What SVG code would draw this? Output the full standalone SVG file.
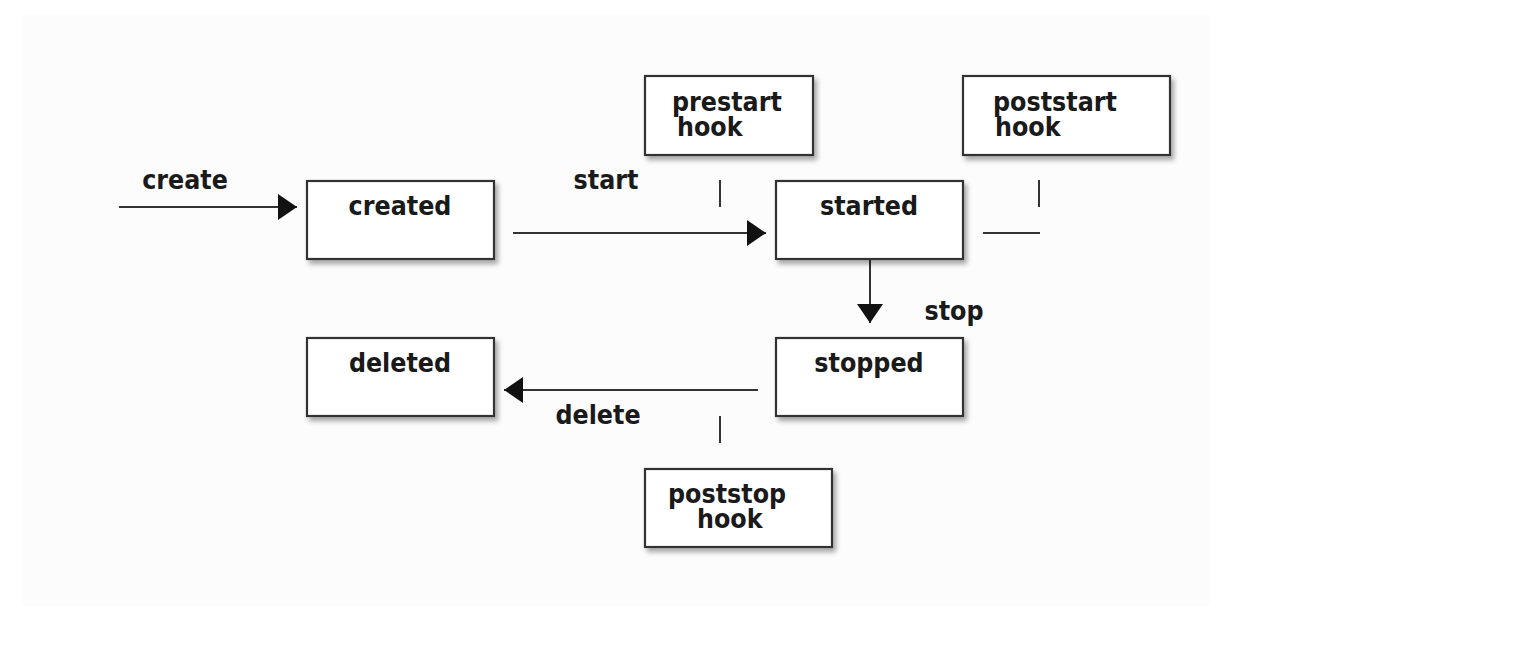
<svg xmlns="http://www.w3.org/2000/svg" width="1524" height="662" viewBox="0 0 1524 662">
<style>
.box{fill:#ffffff;stroke:#333333;stroke-width:2.2;filter:url(#sh)}
.t{font-family:"DejaVu Sans Condensed","DejaVu Sans",sans-serif;font-stretch:condensed;font-weight:bold;font-size:26.5px;fill:#1a1a1a}
.c{text-anchor:middle}
.ln{stroke:#333;stroke-width:2;fill:none}
</style>
<defs>
<filter id="sh" x="-10%" y="-10%" width="130%" height="140%">
<feDropShadow dx="3" dy="4" stdDeviation="2.5" flood-color="#000" flood-opacity="0.35"/>
</filter>
<marker id="ah" markerUnits="userSpaceOnUse" markerWidth="20" markerHeight="26" refX="19" refY="13" orient="auto">
<path d="M0,0 L19,13 L0,26 Z" fill="#111"/>
</marker>
</defs>
<rect x="22" y="15" width="1188" height="591" fill="#fcfcfc"/>
<g id="connectors">
<line class="ln" x1="119" y1="207" x2="297" y2="207" marker-end="url(#ah)"/>
<line class="ln" x1="513" y1="233" x2="766" y2="233" marker-end="url(#ah)"/>
<line class="ln" x1="720" y1="180" x2="720" y2="207"/>
<line class="ln" x1="1039" y1="180" x2="1039" y2="207"/>
<line class="ln" x1="983" y1="233" x2="1040" y2="233"/>
<line class="ln" x1="870" y1="260" x2="870" y2="323" marker-end="url(#ah)"/>
<line class="ln" x1="758" y1="390" x2="504" y2="390" marker-end="url(#ah)"/>
<line class="ln" x1="720" y1="416" x2="720" y2="443"/>
<text class="t c" x="185" y="189">create</text>
<text class="t c" x="606" y="189">start</text>
<text class="t c" x="954" y="320">stop</text>
<text class="t c" x="598" y="424">delete</text>
</g>
<g id="created"><rect class="box" x="307" y="181" width="187" height="78"/><text class="t c" x="400" y="215">created</text></g>
<g id="started"><rect class="box" x="776" y="181" width="187" height="78"/><text class="t c" x="869" y="215">started</text></g>
<g id="deleted"><rect class="box" x="307" y="338" width="187" height="78"/><text class="t c" x="400" y="372">deleted</text></g>
<g id="stopped"><rect class="box" x="776" y="338" width="187" height="78"/><text class="t c" x="869" y="372">stopped</text></g>
<g id="prestart"><rect class="box" x="645" y="76" width="168" height="79"/><text class="t" x="672" y="111">prestart</text><text class="t" x="677" y="136">hook</text></g>
<g id="poststart"><rect class="box" x="963" y="76" width="207" height="79"/><text class="t" x="993" y="111">poststart</text><text class="t" x="995" y="136">hook</text></g>
<g id="poststop"><rect class="box" x="645" y="469" width="187" height="78"/><text class="t" x="668" y="503">poststop</text><text class="t" x="697" y="528">hook</text></g>
</svg>
